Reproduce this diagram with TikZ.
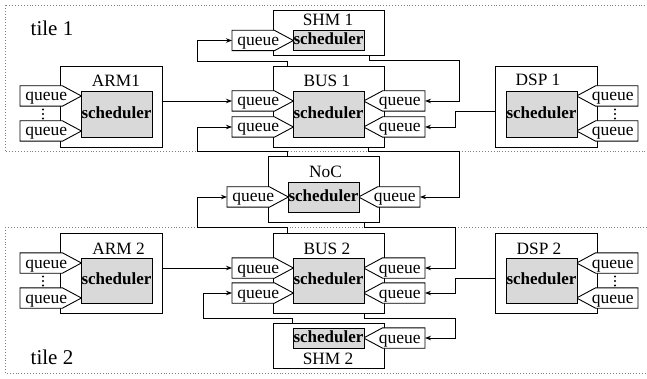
\documentclass[tikz,border=0pt]{standalone}
\usepackage{fontspec}
\setmainfont{Liberation Serif}
\usetikzlibrary{arrows.meta,fit}
\tikzset{
  outerbox/.style={draw, line width=0.9pt, fill=white, inner sep=0pt},
  sched/.style={draw, line width=0.9pt, fill=gray!30, inner sep=0pt, minimum width=71pt,
    font=\fontsize{17}{17}\selectfont\bfseries, text depth=3pt},
  qbody/.style={inner sep=0pt, minimum width=42pt, minimum height=20pt},
  qshape/.style={draw, line width=0.9pt, fill=white},
  qtext/.style={font=\fontsize{17.5}{18}\selectfont, anchor=base, inner sep=0pt},
  lbl/.style={font=\fontsize{17.3}{18}\selectfont, anchor=base, inner sep=0pt},
  tilelbl/.style={font=\fontsize{21}{22}\selectfont, anchor=base, inner sep=0pt},
  conn/.style={line width=0.9pt, -{Stealth[length=6pt,width=4.5pt]}},
  tileframe/.style={dotted, line width=0.9pt, gray}
}
\newcommand{\qR}[3]{%
  \node[qbody, anchor=west] (#1) at (#2,#3) {};
  \draw[qshape] (#1.north west) -- (#1.north east) -- ([xshift=19pt]#1.east) -- (#1.south east) -- (#1.south west) -- cycle;
  \node[qtext] (#1t) at ([xshift=5pt,yshift=-5pt]#1.center) {queue};
}
\newcommand{\qL}[3]{%
  \node[qbody, anchor=east] (#1) at (#2,#3) {};
  \draw[qshape] (#1.north east) -- (#1.north west) -- ([xshift=-19pt]#1.west) -- (#1.south west) -- (#1.south east) -- cycle;
  \node[qtext] (#1t) at ([xshift=-4pt,yshift=-5pt]#1.center) {queue};
}
\newcommand{\vdotsat}[2]{%
  \fill (#1,#2-4.5) circle (1.2pt) (#1,#2) circle (1.2pt) (#1,#2+4.5) circle (1.2pt);
}
\begin{document}
\begin{tikzpicture}[x=1pt,y=-1pt]
\useasboundingbox (0,0) rectangle (647,379);
% tiles
\draw[tileframe] (5,5) rectangle (660,151.5);
\draw[tileframe] (5,227) rectangle (660,373);
\node[tilelbl] (t1) at (52,36) {tile 1};
\node[tilelbl] (t2) at (52,364) {tile 2};

% ---------- ARM1 ----------
\node[outerbox, fit={(60,66) (162,147)}] (arm1) {};
\node[lbl] (arm1l) at (116,87) {ARM1};
\qR{a1q1}{20}{96}
\qR{a1q2}{20}{131}
\vdotsat{43}{114}
\node[sched, minimum height=46pt] (arm1s) at (116.5,114) {scheduler};

% ---------- SHM1 ----------
\node[outerbox, fit={(273,10) (384,55)}] (shm1) {};
\node[lbl] (shm1l) at (328,26) {SHM 1};
\qR{sq1}{232}{40.5}
\node[sched, minimum height=20pt] (shm1s) at (328.5,40.5) {scheduler};

% ---------- BUS1 ----------
\node[outerbox, fit={(273,66) (384,147)}] (bus1) {};
\node[lbl] (bus1l) at (327,87) {BUS 1};
\qR{bl1}{232}{101}
\qR{bl2}{232}{127}
\qL{br1}{425}{101}
\qL{br2}{425}{127}
\node[sched, minimum height=46pt] (bus1s) at (328.5,114) {scheduler};

% ---------- DSP1 ----------
\node[outerbox, fit={(495,66) (597,147)}] (dsp1) {};
\node[lbl] (dsp1l) at (538,86) {DSP 1};
\qL{d1q1}{638}{96}
\qL{d1q2}{638}{131}
\vdotsat{615}{114}
\node[sched, minimum height=46pt] (dsp1s) at (541.5,114) {scheduler};

% ---------- NoC ----------
\node[outerbox, fit={(268,156) (379,222)}] (noc) {};
\node[lbl] (nocl) at (325.5,178) {NoC};
\qR{nl}{227}{197}
\qL{nr}{420}{197}
\node[sched, minimum height=30pt] (nocs) at (323.5,197) {scheduler};

% ---------- ARM2 ----------
\node[outerbox, fit={(60,233) (162,313)}] (arm2) {};
\node[lbl] (arm2l) at (118.5,254) {ARM 2};
\qR{a2q1}{20}{263}
\qR{a2q2}{20}{298}
\vdotsat{43}{281}
\node[sched, minimum height=45pt] (arm2s) at (116.5,280.5) {scheduler};

% ---------- BUS2 ----------
\node[outerbox, fit={(273,233) (384,313)}] (bus2) {};
\node[lbl] (bus2l) at (327,254) {BUS 2};
\qR{b2l1}{232}{268}
\qR{b2l2}{232}{293}
\qL{b2r1}{425}{268}
\qL{b2r2}{425}{293}
\node[sched, minimum height=45pt] (bus2s) at (328.5,280.5) {scheduler};

% ---------- DSP2 ----------
\node[outerbox, fit={(495,233) (597,313)}] (dsp2) {};
\node[lbl] (dsp2l) at (539,254) {DSP 2};
\qL{d2q1}{638}{263}
\qL{d2q2}{638}{298}
\vdotsat{615}{281}
\node[sched, minimum height=45pt] (dsp2s) at (541.5,280.5) {scheduler};

% ---------- SHM2 ----------
\node[outerbox, fit={(273,323) (384,368)}] (shm2) {};
\node[lbl] (shm2l) at (328,364) {SHM 2};
\qL{s2q}{425}{338}
\node[sched, minimum height=20pt] (shm2s) at (328.5,338) {scheduler};

% ---------- connectors ----------
\draw[conn] (arm1.east |- bl1.west) -- (bl1.west);
\draw[conn] ([xshift=20pt]noc.north west) |- (197,151.5) |- (bl2.west);
\draw[conn] ([xshift=15pt]bus1.north west) |- (197,61) |- (sq1.west);
\draw[conn] ([xshift=-15pt]shm1.south east) |- (459,60) |- (br1.east);
\draw[conn] ([yshift=-4.5pt]dsp1.west) -| (455,127) -- (br2.east);
\draw[conn] ([xshift=-16pt]bus1.south east) |- (459,151.5) |- (nr.east);
\draw[conn] ([xshift=15pt]bus2.north west) |- (197,227) |- (nl.west);
\draw[conn] ([xshift=-15pt]noc.south east) |- (455,227) |- (b2r1.east);
\draw[conn] (arm2.east |- b2l1.west) -- (b2l1.west);
\draw[conn] ([xshift=20pt]shm2.north west) |- (203,318) |- (b2l2.west);
\draw[conn] ([yshift=-5pt]dsp2.west) -| (455,293) -- (b2r2.east);
\draw[conn] ([xshift=-20pt]bus2.south east) |- (455,318) |- (s2q.east);
\end{tikzpicture}
\end{document}
